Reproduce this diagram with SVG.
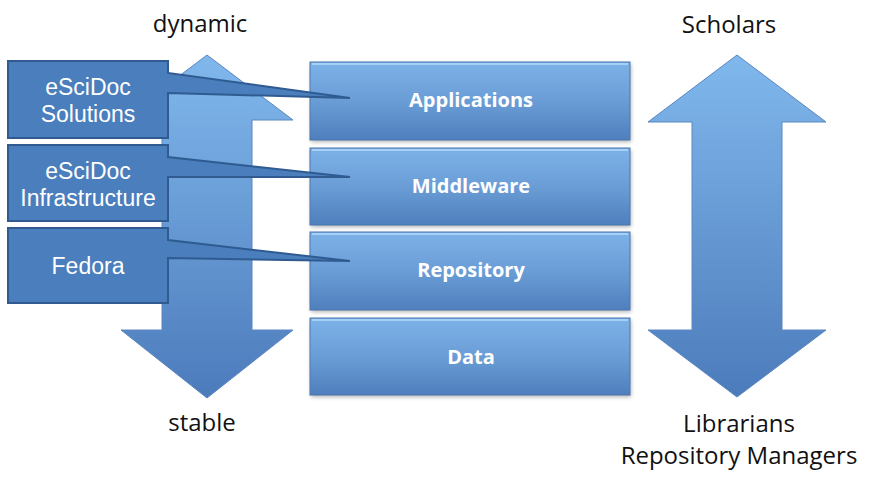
<svg xmlns="http://www.w3.org/2000/svg" width="881" height="486" viewBox="0 0 881 486">
  <defs>
    <linearGradient id="arrowGrad" x1="0" y1="0" x2="0" y2="1">
      <stop offset="0" stop-color="#80b8ec"/>
      <stop offset="1" stop-color="#4c7bbb"/>
    </linearGradient>
    <linearGradient id="layerGrad" x1="0" y1="0" x2="0" y2="1">
      <stop offset="0" stop-color="#7db2e8"/>
      <stop offset="0.5" stop-color="#6a9dd6"/>
      <stop offset="1" stop-color="#4f7fbd"/>
    </linearGradient>
    <filter id="shadow" x="-10%" y="-10%" width="120%" height="130%">
      <feGaussianBlur stdDeviation="2"/>
    </filter>
    <style>
      .lbl { font-family: "Open Sans", "Liberation Sans", sans-serif; font-size: 24px; fill: #111; text-anchor: middle; }
      .arrow { fill: url(#arrowGrad); stroke: #5a87c2; stroke-width: 1; }
      .layer { fill: url(#layerGrad); stroke: #4a76ad; stroke-width: 1; }
      .hl { stroke: #a6d0f5; stroke-width: 2; }
      .shd { fill: #000; opacity: 0.3; filter: url(#shadow); }
      .layertxt { font-family: "Open Sans", "Liberation Sans", sans-serif; font-size: 20px; font-weight: bold; fill: #fff; text-anchor: middle; }
      .callout { fill: #4a7ebc; stroke: #2f5b91; stroke-width: 2; stroke-linejoin: miter; }
      .calltxt { font-family: "Liberation Sans", "Open Sans", sans-serif; font-size: 23px; fill: #fff; text-anchor: middle; }
    </style>
  </defs>
  <rect width="881" height="486" fill="#fff"/>

  <g id="label-dynamic"><text class="lbl" x="200" y="32">dynamic</text></g>
  <g id="label-scholars"><text class="lbl" x="729" y="33">Scholars</text></g>
  <g id="label-stable"><text class="lbl" x="202" y="431">stable</text></g>
  <g id="label-librarians">
    <text class="lbl" x="739" y="432">Librarians</text>
    <text class="lbl" x="739" y="464">Repository Managers</text>
  </g>

  <g id="arrow-left">
    <polygon class="arrow" points="207,55 293,120 252,120 252,330 293,330 207,398 121,330 162,330 162,120 121,120"/>
  </g>
  <g id="arrow-right">
    <polygon class="arrow" points="737,55 826,122 782,122 782,330 826,330 737,397 648,330 692,330 692,122 648,122"/>
  </g>

  <g id="layer-applications">
    <rect class="shd" x="311" y="64" width="320" height="78"/>
    <rect class="layer" x="310" y="62" width="320" height="78"/>
    <line class="hl" x1="312" y1="64" x2="628" y2="64"/>
    <text class="layertxt" x="471" y="107">Applications</text>
  </g>
  <g id="layer-middleware">
    <rect class="shd" x="311" y="150" width="320" height="77"/>
    <rect class="layer" x="310" y="148" width="320" height="77"/>
    <line class="hl" x1="312" y1="150" x2="628" y2="150"/>
    <text class="layertxt" x="471" y="193">Middleware</text>
  </g>
  <g id="layer-repository">
    <rect class="shd" x="311" y="234" width="320" height="78"/>
    <rect class="layer" x="310" y="232" width="320" height="78"/>
    <line class="hl" x1="312" y1="234" x2="628" y2="234"/>
    <text class="layertxt" x="471" y="277">Repository</text>
  </g>
  <g id="layer-data">
    <rect class="shd" x="311" y="320" width="320" height="77"/>
    <rect class="layer" x="310" y="318" width="320" height="77"/>
    <line class="hl" x1="312" y1="320" x2="628" y2="320"/>
    <text class="layertxt" x="471" y="364">Data</text>
  </g>

  <g id="connectors">
    <g id="callout-solutions">
      <path class="callout" d="M8,61 H168 V73 L350,98 L168,93 V138 H8 Z"/>
      <text class="calltxt" x="88" y="95">eSciDoc</text>
      <text class="calltxt" x="88" y="122">Solutions</text>
    </g>
    <g id="callout-infrastructure">
      <path class="callout" d="M8,145 H168 V157 L350,177 L168,177 V221 H8 Z"/>
      <text class="calltxt" x="88" y="179">eSciDoc</text>
      <text class="calltxt" x="88" y="206">Infrastructure</text>
    </g>
    <g id="callout-fedora">
      <path class="callout" d="M8,228 H168 V240 L350,261 L168,258 V303 H8 Z"/>
      <text class="calltxt" x="88" y="274">Fedora</text>
    </g>
  </g>
</svg>
